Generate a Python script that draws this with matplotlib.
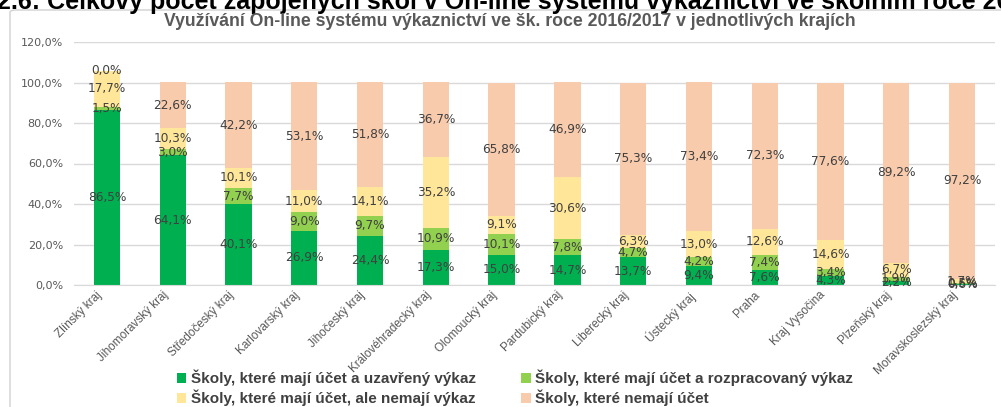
import matplotlib
matplotlib.use("Agg")
import matplotlib.pyplot as plt
import matplotlib.transforms as mtransforms
from matplotlib.patches import FancyBboxPatch
import numpy as np

categories = ["Zlínský kraj", "Jihomoravský kraj", "Středočeský kraj", "Karlovarský kraj",
              "Jihočeský kraj", "Královéhradecký kraj", "Olomoucký kraj", "Pardubický kraj",
              "Liberecký kraj", "Ústecký kraj", "Praha", "Kraj Vysočina", "Plzeňský kraj",
              "Moravskoslezský kraj"]
closed = [86.5, 64.1, 40.1, 26.9, 24.4, 17.3, 15.0, 14.7, 13.7, 9.4, 7.6, 4.3, 2.2, 0.6]
in_progress = [1.5, 3.0, 7.7, 9.0, 9.7, 10.9, 10.1, 7.8, 4.7, 4.2, 7.4, 3.4, 1.9, 0.5]
no_report = [17.7, 10.3, 10.1, 11.0, 14.1, 35.2, 9.1, 30.6, 6.3, 13.0, 12.6, 14.6, 6.7, 1.7]
no_account = [0.0, 22.6, 42.2, 53.1, 51.8, 36.7, 65.8, 46.9, 75.3, 73.4, 72.3, 77.6, 89.2, 97.2]
series_names = ["Školy, které mají účet a uzavřený výkaz",
                "Školy, které mají účet a rozpracovaný výkaz",
                "Školy, které mají účet, ale nemají výkaz",
                "Školy, které nemají účet"]
colors = ["#00B050", "#92D050", "#FFE699", "#F8CBAD"]
yticks = [0, 20, 40, 60, 80, 100, 120]

plt.rcParams['font.family'] = ['DejaVu Sans']
LIB = ["Liberation Sans", "DejaVu Sans"]

fig = plt.figure(figsize=(10.01, 4.07), dpi=100)

# chart border
border = FancyBboxPatch((10 / 1001, -0.05), 1.05, 1 - 10 / 407 + 0.05,
                        boxstyle="round,pad=0,rounding_size=0.006",
                        transform=fig.transFigure, facecolor="none",
                        edgecolor="#d0d0d0", linewidth=1.0, zorder=0)
fig.patches.append(border)

# cropped document heading
fig.text(-3 / 1001, 1 - 9.5 / 407,
         "2.6: Celkový počet zapojených škol v On-line systému výkaznictví ve školním roce 2016/2017",
         fontsize=18, fontweight="bold", color="black", ha="left", va="baseline",
         family=LIB)

fig.text(510 / 1001, 1 - 21 / 407,
         "Využívání On-line systému výkaznictví ve šk. roce 2016/2017 v jednotlivých krajích",
         fontsize=12.7, fontweight="bold", color="#595959", ha="center", va="center",
         family=LIB)

ax = fig.add_axes([74 / 1001, 1 - 285 / 407, (995 - 74) / 1001, (285 - 42) / 407])
ax.set_facecolor("none")
x = np.arange(len(categories))
data = [closed, in_progress, no_report, no_account]
bottom = np.zeros(len(categories))
for vals, col, name in zip(data, colors, series_names):
    vals = np.array(vals)
    ax.bar(x, vals, 0.4, bottom=bottom, color=col, label=name, zorder=2)
    for xi, b, v in zip(x, bottom, vals):
        ax.text(xi, b + v / 2, f"{v:.1f}%".replace(".", ","), ha="center", va="center",
                fontsize=8.7, color="#404040", zorder=3)
    bottom += vals

ax.set_xlim(-0.5, len(categories) - 0.5)
ax.set_ylim(0, 120)
ax.set_yticks(yticks)
ax.set_yticklabels([f"{t:.1f}%".replace(".", ",") for t in yticks], fontsize=8, color="#595959")
ax.yaxis.grid(True, color="#d9d9d9", linewidth=1, zorder=0)
ax.set_axisbelow(True)
ax.tick_params(axis="y", length=0, pad=8)
ax.tick_params(axis="x", length=0, pad=3)
ax.set_xticks(x)
ax.set_xticklabels(categories, rotation=45, ha="right", rotation_mode="anchor",
                   fontsize=8.5, color="#595959", family=LIB)
offset = mtransforms.ScaledTranslation(-11 / 100, 0, fig.dpi_scale_trans)
for lbl in ax.get_xticklabels():
    lbl.set_transform(lbl.get_transform() + offset)
for s in ["top", "right", "left"]:
    ax.spines[s].set_visible(False)
ax.spines["bottom"].set_color("#d9d9d9")

handles, labels = ax.get_legend_handles_labels()
order = [0, 2, 1, 3]
leg = fig.legend([handles[i] for i in order], [labels[i] for i in order],
                 loc="center", bbox_to_anchor=(515 / 1001, 1 - 388 / 407), ncol=2,
                 frameon=False, handlelength=0.6, handleheight=0.6,
                 handletextpad=0.3, columnspacing=3.0, labelspacing=0.25,
                 borderpad=0.1,
                 prop={"weight": "bold", "size": 11, "family": LIB})
for t in leg.get_texts():
    t.set_color("#404040")

fig.savefig("out.png", dpi=100)
